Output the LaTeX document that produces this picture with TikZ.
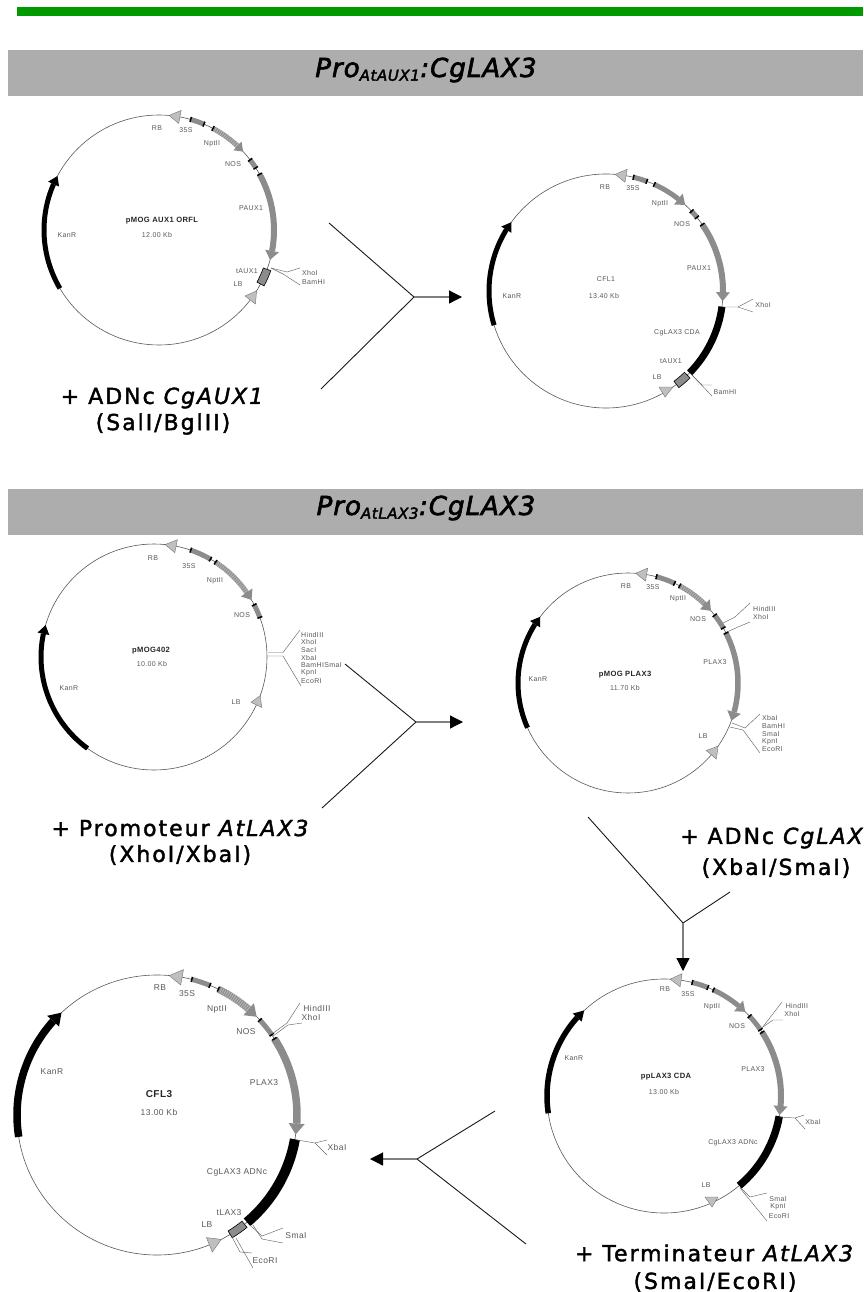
\documentclass[tikz,border=0pt]{standalone}
\usepackage{fontspec}
\setmainfont{DejaVu Sans}
\newfontfamily\labfont[LetterSpace=5]{Liberation Sans}
\newfontfamily\capfont[FakeBold=1.8,LetterSpace=9]{DejaVu Sans}
\newfontfamily\headfont[FakeBold=2.5,LetterSpace=4]{DejaVu Sans}
\usetikzlibrary{arrows.meta}
\definecolor{bargray}{gray}{0.68}
\definecolor{barstrip}{rgb}{0,0.6,0}
\definecolor{genegray}{gray}{0.55}
\definecolor{ltri}{gray}{0.75}
\tikzset{
  x=1pt,y=-1pt,
  ring/.style={draw=black!65,line width=0.6pt},
  lab/.style={inner sep=0pt,text=black!65,font=\labfont\fontsize{7}{8}\selectfont},
  labm/.style={lab,font=\labfont\fontsize{8.5}{9.5}\selectfont},
  labl/.style={lab,anchor=west},
  labb/.style={lab,text=black!85,font=\labfont\bfseries\fontsize{7.6}{9}\selectfont},
  labbm/.style={labb,font=\labfont\bfseries\fontsize{10}{11}\selectfont},
  site/.style={draw=black!60,line width=0.45pt},
  fork/.style={draw=black!90,line width=0.9pt},
  forkarrow/.style={draw=black!50,line width=1.2pt,-{Triangle[length=13pt,width=13pt,color=black]}},
  headbar/.style={fill=bargray,draw=none},
  title/.style={inner sep=0pt,font=\headfont\itshape\fontsize{26}{30}\selectfont},
  step text/.style={inner sep=0pt,font=\capfont\fontsize{22}{26}\selectfont}
}
% y-up local frame centred on the plasmid
\newcommand{\plasmid}[4]{\begin{scope}[shift={(#1,#2)},yscale=-1]\def\R{#3}\draw[ring] (0,0) circle[radius=\R];#4\end{scope}}
\newcommand{\gene}[4]{\draw[#3,line width=#4pt] (#1:\R) arc[start angle=#1,end angle=#2,radius=\R];}
\newcommand{\hatch}[3]{\draw[black!30,line width=#3pt,dash pattern=on 1pt off 1.2pt] (#1:\R) arc[start angle=#1,end angle=#2,radius=\R];}
\newcommand{\tri}[5]{% tip angle, dir, colour, length, half width
  \pgfmathsetmacro\bang{#1-(#2)*#4/\R*57.3}
  \pgfmathsetmacro\rout{\R+#5}\pgfmathsetmacro\rin{\R-#5}
  \fill[#3] (#1:\R) -- (\bang:\rout) -- (\bang:\rin) -- cycle;}
\newcommand{\otri}[3]{% tip angle, dir, size : light outlined border marker
  \pgfmathsetmacro\bang{#1-(#2)*#3/\R*57.3}
  \pgfmathsetmacro\rout{\R+#3*0.6}\pgfmathsetmacro\rin{\R-#3*0.6}
  \filldraw[fill=ltri,draw=black!55,line width=0.4pt] (#1:\R) -- (\bang:\rout) -- (\bang:\rin) -- cycle;}
\newcommand{\agene}[6]{% start, tip, colour, width, head length, head half width
  \pgfmathsetmacro\sgn{(#2)>(#1)?1:-1}
  \pgfmathsetmacro\bb{#2-\sgn*#5/\R*57.3}
  \draw[#3,line width=#4pt] (#1:\R) arc[start angle=#1,end angle=\bb,radius=\R];
  \tri{#2}{\sgn}{#3}{#5}{#6}}
\newcommand{\tick}[1]{\pgfmathsetmacro\ra{\R-2.6}\pgfmathsetmacro\rb{\R+2.6}\draw[black,line width=1.5pt] (#1:\ra) -- (#1:\rb);}
\newcommand{\feat}[2]{\gene{#1}{#2}{genegray}{5}\tick{#1}\tick{#2}}
\newcommand{\tbox}[3][genegray]{\pgfmathsetmacro\ra{\R-4}\pgfmathsetmacro\rb{\R+4}%
  \filldraw[fill=#1,draw=black,line width=0.6pt] (#2:\ra) arc[start angle=#2,end angle=#3,radius=\ra] -- (#3:\rb) arc[start angle=#3,end angle=#2,radius=\rb] -- cycle;}
\newcommand{\lab}[5][lab]{\node[#1] (#2) at (#3,#4) {#5};}
\begin{document}
\begin{tikzpicture}
\useasboundingbox (0,0) rectangle (863,1292);
\fill[white] (0,0) rectangle (863,1292);
\fill[barstrip] (17,7) rectangle (863,16);
\fill[headbar] (8,50) rectangle (863,96);
\fill[headbar] (8,489) rectangle (863,535);
\node[title] (t1) at (426,70) {Pro\textsubscript{\fontsize{15}{16}\selectfont AtAUX1}:CgLAX3};
\node[title] (t2) at (426,508) {Pro\textsubscript{\fontsize{15}{16}\selectfont AtLAX3}:CgLAX3};

% ---------- plasmid 1
\plasmid{159}{230}{115}{
  \otri{85}{1}{11}
  \feat{74}{67}
  \agene{62}{43}{genegray}{5}{8}{6}\hatch{62}{47}{5}\tick{62}
  \feat{37.6}{32.7}
  \agene{29}{-15}{genegray}{6}{9}{7}\tick{29}
  \tbox{-20}{-28}
  \otri{-32}{1}{11}
  \agene{210.5}{152}{black}{5}{9}{6}
}
\lab{a1}{157}{128}{RB}\lab{a2}{186}{130}{35S}\lab{a3}{212}{144}{NptII}\lab{a4}{233}{164}{NOS}
\lab{a5}{251}{208}{PAUX1}\lab{a6}{247}{271}{tAUX1}\lab{a7}{238}{284}{LB}
\lab[labl]{a8}{302}{273}{XhoI}\lab[labl]{a9}{302}{282}{BamHI}
\lab[labb]{a10}{162}{221}{pMOG AUX1 ORFL}\lab{a11}{157}{235}{12.00 Kb}\lab{a12}{67}{235}{KanR}
\draw[site] (271,268) -- (287,272) -- (300,268);
\draw[site] (271,268) -- (283,274) -- (300,285);

% ---------- plasmid 2
\plasmid{606}{291}{117}{
  \otri{85.5}{1}{11}
  \feat{76.4}{69.6}
  \agene{65.6}{47.4}{genegray}{5}{9}{7}\tick{65.6}
  \feat{43}{39}
  \agene{34.6}{-5}{genegray}{6}{9}{7}\tick{34.6}
  \gene{-7.7}{-44.4}{black}{7}
  \tbox{-46}{-53}
  \agene{197}{144}{black}{5}{9}{6}
}
\filldraw[fill=ltri,draw=black!55,line width=0.4pt] (659,387) -- (673,387) -- (665,397) -- cycle;
\lab{b1}{605}{187}{RB}\lab{b2}{633}{188}{35S}\lab{b3}{660}{204}{NptII}\lab{b4}{682}{224}{NOS}
\lab{b5}{699}{268}{PAUX1}\lab{b6}{677}{333}{CgLAX3 CDA}\lab{b7}{671}{361}{tAUX1}\lab{b8}{657}{377}{LB}
\lab{b9}{763}{305}{XhoI}\lab{b10}{725}{392}{BamHI}
\lab{b11}{606}{279}{CFL1}\lab{b12}{604}{296}{13.40 Kb}\lab{b13}{512}{296}{KanR}
\draw[site] (722,307) -- (738,307) -- (753,299);
\draw[site] (738,307) -- (753,312);
\draw[site] (692,375) -- (702,385) -- (712,385);
\draw[site] (692,375) -- (712,396);

% ---------- plasmid 3
\plasmid{154}{657}{113}{
  \otri{84.3}{1}{11}
  \feat{71}{60}
  \agene{57}{30.3}{genegray}{5}{9}{7}\hatch{57}{35}{5}\tick{57}
  \feat{27.5}{20.5}
  \otri{-20}{1}{10}
  \agene{234}{163.6}{black}{5}{9}{6}
}
\lab{c1}{153}{558}{RB}\lab{c2}{189}{566}{35S}\lab{c3}{215}{581}{NptII}\lab{c4}{242}{615}{NOS}
\lab{c5}{69}{688}{KanR}\lab{c6}{236}{702}{LB}
\lab[labb]{c7}{151}{651}{pMOG402}\lab{c8}{152}{664}{10.00 Kb}
\lab[labl]{c9}{301}{635}{HindIII}\lab[labl]{c10}{301}{642}{XhoI}\lab[labl]{c11}{301}{650}{SacI}
\lab[labl]{c12}{301}{658}{XbaI}\lab[labl]{c13}{301}{665}{BamHISmaI}\lab[labl]{c14}{301}{673}{KpnI}\lab[labl]{c15}{301}{681}{EcoRI}
\draw[site] (268,652.5) -- (283,652.5) -- (300,630);
\draw[site] (268,656) -- (283,656) -- (301,686);

% ---------- plasmid 4
\plasmid{628}{683}{110}{
  \otri{86}{1}{11}
  \feat{75}{65}
  \agene{62}{41}{genegray}{5}{9}{7}\hatch{62}{46}{5}\tick{62}
  \feat{38}{30}
  \agene{27}{-20}{genegray}{5.5}{9}{7}\tick{27}
  \otri{-35}{1}{11}
  \agene{204}{143}{black}{5}{9}{6}
}
\lab{d1}{626}{586}{RB}\lab{d2}{653}{587}{35S}\lab{d3}{678}{599}{NptII}\lab{d4}{698}{619}{NOS}
\lab{d5}{715}{662}{PLAX3}\lab{d6}{703}{736}{LB}\lab{d7}{538}{679}{KanR}
\lab[labb]{d8}{625}{675}{pMOG PLAX3}\lab{d9}{625}{688}{11.70 Kb}
\lab[labl]{d10}{753}{609}{HindIII}\lab[labl]{d11}{753}{617}{XhoI}
\lab[labl]{d12}{762}{718}{XbaI}\lab[labl]{d13}{762}{726}{BamHI}\lab[labl]{d14}{762}{734}{SmaI}\lab[labl]{d15}{762}{742}{KpnI}\lab[labl]{d16}{762}{749}{EcoRI}
\draw[site] (723,623) -- (735,617) -- (750,603);
\draw[site] (727,632) -- (738,627) -- (750,622);
\draw[site] (732,723) -- (745,728) -- (760,714);
\draw[site] (730,727) -- (743,730) -- (760,753);

% ---------- plasmid 5
\plasmid{157}{1115}{140}{
  \otri{85}{1}{13}
  \feat{75.6}{67.8}
  \agene{64}{44.6}{genegray}{7}{11}{8}\hatch{64}{49}{7}\tick{64}
  \feat{42.7}{35}
  \agene{33}{-8}{genegray}{7.5}{11}{8}\tick{33}
  \gene{-10}{-50}{black}{10}
  \tbox{-51.3}{-58.5}
  \otri{-62.7}{1}{13}
  \agene{189}{133}{black}{7.5}{12}{8}
}
\lab[labm]{e1}{160}{988}{RB}\lab[labm]{e2}{187}{994}{35S}\lab[labm]{e3}{217}{1009}{NptII}\lab[labm]{e4}{246}{1032}{NOS}
\lab[labm]{e5}{264}{1083}{PLAX3}\lab[labm]{e6}{52}{1072}{KanR}\lab[labm]{e7}{237}{1172}{CgLAX3 ADNc}\lab[labm]{e8}{229}{1213}{tLAX3}\lab[labm]{e9}{207}{1225}{LB}
\lab[labbm]{e10}{159}{1094}{CFL3}\lab[labm]{e11}{159}{1112}{13.00 Kb}
\lab[labm]{e12}{317}{1008}{HindIII}\lab[labm]{e13}{311}{1017}{XhoI}\lab[labm]{e14}{337}{1147}{XbaI}\lab[labm]{e15}{296}{1236}{SmaI}\lab[labm]{e16}{265}{1261}{EcoRI}
\draw[site] (272,1034) -- (287,1023) -- (300,1003);
\draw[site] (273,1036) -- (288,1025) -- (302,1023);
\draw[site] (297,1140) -- (315,1143) -- (327,1140);
\draw[site] (315,1143) -- (327,1155);
\draw[site] (250,1225) -- (262,1236) -- (283,1228);
\draw[site] (253,1225) -- (262,1239) -- (283,1243);
\draw[site] (232,1237) -- (240,1252) -- (252,1253);
\draw[site] (236,1238) -- (253,1268);

% ---------- plasmid 6
\plasmid{664}{1096}{117}{
  \otri{87}{1}{11}
  \feat{76}{68}
  \agene{65}{46}{genegray}{5}{9}{7}\tick{65}
  \feat{43}{34.5}
  \agene{33}{-9.3}{genegray}{6}{9}{7}\tick{33}
  \gene{-10}{-50}{black}{7.5}
  \agene{188.5}{133}{black}{5.5}{10}{6}
}
\filldraw[fill=ltri,draw=black!55,line width=0.4pt] (705,1197) -- (718,1197) -- (712,1207) -- cycle;
\lab{f1}{665}{989}{RB}\lab{f2}{688}{994}{35S}\lab{f3}{712}{1007}{NptII}\lab{f4}{737}{1026}{NOS}
\lab{f5}{753}{1069}{PLAX3}\lab{f6}{574}{1058}{KanR}\lab{f7}{733}{1143}{CgLAX3 ADNc}\lab{f8}{706}{1185}{LB}
\lab[labb]{f9}{666}{1077}{ppLAX3 CDA}\lab{f10}{664}{1092}{13.00 Kb}
\lab{f11}{797}{1006}{HindIII}\lab{f12}{792}{1014}{XhoI}\lab{f13}{813}{1122}{XbaI}
\lab{f14}{778}{1199}{SmaI}\lab{f15}{778}{1207}{KpnI}\lab{f16}{779}{1216}{EcoRI}
\draw[site] (762,1028) -- (772,1015) -- (782,1002);
\draw[site] (763,1027) -- (773,1020) -- (783,1020);
\draw[site] (780,1117) -- (795,1118) -- (804,1115);
\draw[site] (795,1118) -- (805,1129);
\draw[site] (740,1187) -- (750,1197) -- (767,1193);
\draw[site] (740,1188) -- (767,1221);

% ---------- step captions
\node[step text] (s1) at (163,398) {+ ADNc \textit{CgAUX1}};
\node[step text] (s2) at (163,424) {(SalI/BglII)};
\node[step text] (s3) at (181,828) {+ Promoteur \textit{AtLAX3}};
\node[step text] (s4) at (180,855) {(XhoI/XbaI)};
\node[step text,anchor=west] (s5) at (680,838) {+ ADNc \textit{CgLAX}};
\node[step text] (s6) at (776,868) {(XbaI/SmaI)};
\node[step text] (s7) at (715,1253) {+ Terminateur \textit{AtLAX3}};
\node[step text] (s8) at (715,1282) {(SmaI/EcoRI)};

% ---------- forks
\coordinate (fa1) at (329,223);\coordinate (fa2) at (321,389);\coordinate (fa) at (414,297);\coordinate (fae) at (462,297);
\draw[fork] (fa1) -- (fa) -- (fa2);\draw[forkarrow] (fa) -- (fae);
\coordinate (fb1) at (345,664);\coordinate (fb2) at (322,808);\coordinate (fb) at (416,722);\coordinate (fbe) at (463,722);
\draw[fork] (fb1) -- (fb) -- (fb2);\draw[forkarrow] (fb) -- (fbe);
\coordinate (fc1) at (588,817);\coordinate (fc2) at (730,892);\coordinate (fc) at (683,923);\coordinate (fce) at (683,971);
\draw[fork] (fc1) -- (fc) -- (fc2);\draw[forkarrow] (fc) -- (fce);
\coordinate (fd1) at (495,1111);\coordinate (fd2) at (526,1244);\coordinate (fd) at (417,1159);\coordinate (fde) at (370,1159);
\draw[fork] (fd1) -- (fd) -- (fd2);\draw[forkarrow] (fd) -- (fde);
\end{tikzpicture}
\end{document}
